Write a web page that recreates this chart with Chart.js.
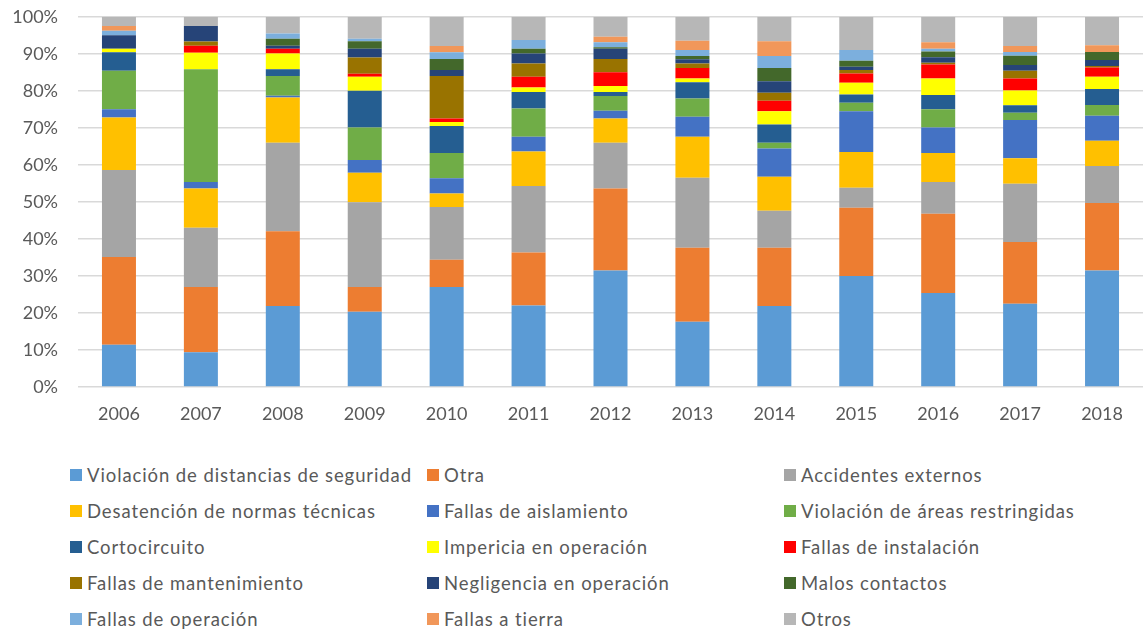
<!DOCTYPE html>
<html lang="es">
<head>
<meta charset="utf-8">
<title>Causas de accidentes</title>
<script src="https://cdn.jsdelivr.net/npm/chart.js@4/dist/chart.umd.min.js"></script>
<style>
    body { margin: 0; background: #fff; font-family: Lato, 'Open Sans', sans-serif; overflow: hidden; }
    #wrap { position: relative; width: 1146px; height: 632px; overflow: hidden; }
    #chartBox { position: absolute; left: 0; top: -14px; width: 1146px; height: 454px; }
    #legend { position: absolute; left: 0; top: 464px; width: 1146px; }
    .item { position: absolute; display: flex; align-items: center; font-size: 18.5px; letter-spacing: 0.9px; color: #595959; white-space: nowrap; }
    .swatch { width: 12px; height: 12px; margin-right: 5px; }
</style>
</head>
<body>
<div id="wrap">
    <div id="chartBox"><canvas id="chart"></canvas></div>
    <div id="legend"></div>
</div>
<script>
// Data (percent of each year)
const years = ['2006', '2007', '2008', '2009', '2010', '2011', '2012', '2013', '2014', '2015', '2016', '2017', '2018'];
const yTicks = [0, 10, 20, 30, 40, 50, 60, 70, 80, 90, 100];

const violacionDistancias = [11.4, 9.4, 21.9, 20.3, 27.0, 22.0, 31.5, 17.6, 21.9, 30.0, 25.4, 22.5, 31.5];
const otra                = [23.7, 17.6, 20.2, 6.7, 7.4, 14.3, 22.1, 20.0, 15.7, 18.4, 21.4, 16.7, 18.2];
const accidentesExternos  = [23.5, 16.0, 23.9, 22.9, 14.2, 18.0, 12.4, 18.9, 10.0, 5.4, 8.6, 15.7, 10.0];
const desatencionNormas   = [14.2, 10.6, 12.2, 8.0, 3.7, 9.3, 6.5, 11.1, 9.2, 9.7, 7.8, 6.9, 6.8];
const fallasAislamiento   = [2.2, 1.8, 0.5, 3.4, 4.1, 4.0, 2.1, 5.4, 7.6, 11.0, 6.9, 10.3, 6.8];
const violacionAreas      = [10.4, 30.4, 5.3, 8.8, 6.8, 7.6, 4.0, 4.9, 1.6, 2.3, 4.9, 2.0, 2.9];
const cortocircuito       = [5.0, 0.0, 1.8, 9.9, 7.3, 4.5, 1.1, 4.4, 4.9, 2.2, 3.9, 2.0, 4.3];
const impericia           = [1.0, 4.5, 4.3, 3.8, 1.1, 1.2, 1.6, 1.0, 3.6, 3.2, 4.4, 4.0, 3.3];
const fallasInstalacion   = [0.0, 1.9, 1.3, 0.8, 0.9, 2.9, 3.7, 2.9, 2.8, 2.5, 3.8, 3.2, 2.5];
const fallasMantenimiento = [0.0, 1.1, 0.0, 4.4, 11.5, 3.6, 3.6, 1.2, 2.2, 0.9, 0.5, 2.1, 0.4];
const negligencia         = [3.6, 4.2, 0.8, 2.4, 1.6, 2.7, 2.8, 1.1, 3.1, 0.9, 1.5, 1.6, 1.6];
const malosContactos      = [0.0, 0.0, 1.9, 2.0, 3.0, 1.3, 0.4, 0.9, 3.6, 1.6, 1.5, 2.5, 2.2];
const fallasOperacion     = [1.2, 0.0, 1.4, 0.7, 1.8, 2.3, 1.3, 1.6, 3.2, 2.9, 0.8, 1.0, 0.0];
const fallasTierra        = [1.3, 0.0, 0.0, 0.0, 1.7, 0.0, 1.5, 2.5, 4.0, 0.0, 1.7, 1.6, 1.8];
const otros               = [2.5, 2.5, 4.5, 5.9, 7.9, 6.3, 5.4, 6.5, 6.6, 9.0, 6.9, 7.9, 7.7];

const series = [
    { label: 'Violación de distancias de seguridad', data: violacionDistancias, color: '#5B9BD5' },
    { label: 'Otra', data: otra, color: '#ED7D31' },
    { label: 'Accidentes externos', data: accidentesExternos, color: '#A5A5A5' },
    { label: 'Desatención de normas técnicas', data: desatencionNormas, color: '#FFC000' },
    { label: 'Fallas de aislamiento', data: fallasAislamiento, color: '#4472C4' },
    { label: 'Violación de áreas restringidas', data: violacionAreas, color: '#70AD47' },
    { label: 'Cortocircuito', data: cortocircuito, color: '#255E91' },
    { label: 'Impericia en operación', data: impericia, color: '#FFFF00' },
    { label: 'Fallas de instalación', data: fallasInstalacion, color: '#FF0000' },
    { label: 'Fallas de mantenimiento', data: fallasMantenimiento, color: '#997300' },
    { label: 'Negligencia en operación', data: negligencia, color: '#264478' },
    { label: 'Malos contactos', data: malosContactos, color: '#43682B' },
    { label: 'Fallas de operación', data: fallasOperacion, color: '#7CAFDD' },
    { label: 'Fallas a tierra', data: fallasTierra, color: '#F1975A' },
    { label: 'Otros', data: otros, color: '#B7B7B7' }
];

// Chart
const ctx = document.getElementById('chart');
new Chart(ctx, {
    type: 'bar',
    data: {
        labels: years,
        datasets: series.map(s => ({
            label: s.label,
            data: s.data,
            backgroundColor: s.color,
            borderWidth: 0,
            barPercentage: 0.415,
            categoryPercentage: 1
        }))
    },
    options: {
        responsive: true,
        maintainAspectRatio: false,
        animation: false,
        layout: { padding: { top: 0, right: 3, left: 0, bottom: 0 } },
        plugins: { legend: { display: false }, tooltip: { enabled: false } },
        scales: {
            x: {
                stacked: true,
                grid: { display: false },
                border: { display: false },
                ticks: { color: '#595959', font: { family: 'Lato', size: 18 }, padding: 8 },
                afterFit: s => { s.height = 53; }
            },
            y: {
                stacked: true,
                min: 0,
                max: 100,
                afterBuildTicks: s => { s.ticks = yTicks.map(v => ({ value: v })); },
                grid: { color: '#D9D9D9', lineWidth: 1.5, drawTicks: false },
                border: { display: false },
                ticks: {
                    color: '#595959',
                    font: { family: 'Lato', size: 18 },
                    padding: 20,
                    callback: v => v + '%'
                },
                afterFit: s => { s.width = 78; }
            }
        }
    }
});

// Legend (3 columns, row by row)
const legendBox = document.getElementById('legend');
const colX = [70, 427, 784];
series.forEach((s, i) => {
    const div = document.createElement('div');
    div.className = 'item';
    div.style.left = colX[i % 3] + 'px';
    div.style.top = (Math.floor(i / 3) * 36) + 'px';
    div.innerHTML = `<span class="swatch" style="background:${s.color}"></span><span>${s.label}</span>`;
    legendBox.appendChild(div);
});
</script>
</body>
</html>
